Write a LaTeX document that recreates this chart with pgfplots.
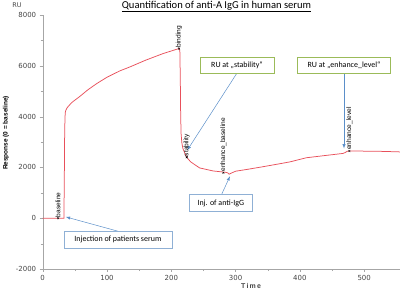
\documentclass[border=0pt]{standalone}
\usepackage{pgfplots}
\pgfplotsset{compat=1.18}
\usepackage{fontspec}
\setmainfont{Liberation Sans}
\newfontfamily\calfont{Carlito}
\newfontfamily\dvfont{DejaVu Sans}
\definecolor{curve}{HTML}{E8505B}
\definecolor{arr}{HTML}{5B8FC9}
\definecolor{bluebox}{HTML}{8FB0D5}
\definecolor{greenbox}{HTML}{9BBB59}
\definecolor{tk}{HTML}{444444}
\begin{document}
\begin{tikzpicture}
\begin{axis}[
  at={(42.7bp,22bp)}, anchor=south west,
  scale only axis, width=357.3bp, height=254bp,
  xmin=0, xmax=555.7, ymin=-2000, ymax=8000,
  axis lines=left, axis line style={-, color=gray!70},
  xtick={0,100,...,500}, ytick={-2000,0,...,8000},
  minor x tick num=1, minor y tick num=1,
  tick align=outside, major tick length=3bp, minor tick length=2bp,
  tick style={gray!70},
  ticklabel style={font=\dvfont\fontsize{7}{8}\selectfont, text=tk},
  /pgf/number format/assume math mode=true,
  /pgf/number format/1000 sep={},
  clip=false,
]
\addplot[curve, line width=0.75bp] coordinates {
(0,0) (33,0) (33.6,1500) (34.2,3500) (35,4150) (36,4250) (38,4350) (45,4550) (58,4800)
(70,5050) (84,5300) (100,5550) (120,5800) (136,5960) (160,6220) (187,6480) (212,6680)
(213.3,6600) (214,5500) (214.6,4000) (215.3,3300) (216.5,2950) (218,2750) (221,2560)
(224,2400) (230,2220) (244,1980) (265,1860) (280,1820) (286,1800) (288,1780) (290,1730)
(292,1760) (300,1850) (320,1930) (341,2020) (370,2150) (385,2220) (410,2380) (440,2470)
(467,2550) (470,2580) (474,2640) (480,2650) (500,2640) (530,2630) (555.7,2610)
};
\addplot[only marks, mark=x, mark size=1.3bp, black,
  nodes near coords, point meta=explicit symbolic,
  every node near coord/.style={rotate=90, anchor=west, inner sep=1bp,
    font=\fontsize{6.6}{7}\selectfont, text=black}]
  table[meta=label] {
x y label
24 0 baseline
212 6680 binding
224 2400 stability
281 1790 enhance\_baseline
477 2645 enhance\_level
};
% annotations
\draw[arr, -latex, line width=0.5bp] (117,-512) -- (36,50);
\draw[arr, -latex, line width=0.5bp] (278.4,945) -- (291.3,1653);
\draw[arr, -latex, line width=0.5bp] (301.7,5697) -- (224.9,2677);
\draw[arr, -latex, line width=0.5bp] (468.6,5697) -- (468.6,2744);
\node[draw=bluebox, fill=white, line width=0.6bp, font=\calfont\fontsize{8}{9}\selectfont,
  minimum width=108bp, minimum height=16.7bp, inner sep=1bp] at (117,-842) {Injection of patients serum};
\node[draw=bluebox, fill=white, line width=0.6bp, font=\calfont\fontsize{8}{9}\selectfont,
  minimum width=63.4bp, minimum height=17bp, inner sep=1bp] at (277,590) {Inj. of anti-IgG};
\node[draw=greenbox, fill=white, line width=0.6bp, font=\calfont\fontsize{8}{9}\selectfont,
  minimum width=74bp, minimum height=16.7bp, inner sep=1bp] at (302.2,6024) {RU at „stability“};
\node[draw=greenbox, fill=white, line width=0.6bp, font=\calfont\fontsize{8}{9}\selectfont,
  minimum width=93.4bp, minimum height=16.7bp, inner sep=1bp] at (468.6,6024) {RU at „enhance\_level“};
\end{axis}
\node[font=\calfont\fontsize{10.6}{12}\selectfont] at (216.5bp,284.5bp) {\underline{Quantification of anti-A IgG in human serum}};
\node[font=\dvfont\fontsize{6.5}{7}\selectfont, text=tk] at (17bp,285.5bp) {RU};
\node[rotate=90, font=\bfseries\fontsize{6.5}{7}\selectfont] at (6bp,158bp) {Response (0 = baseline)};
\node[font=\bfseries\fontsize{7}{8}\selectfont, text=tk] at (251bp,4.5bp) {T\,i\,m\,e};
\pgfresetboundingbox
\path (0,0) rectangle (400bp,291bp);
\end{tikzpicture}
\end{document}
